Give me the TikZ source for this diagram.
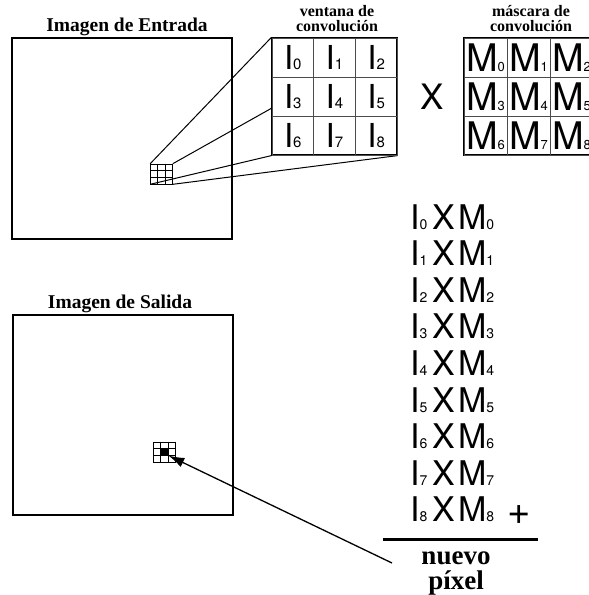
\documentclass[tikz,border=0pt]{standalone}
\usepackage{fontspec}
\setmainfont{Liberation Serif}
\newfontfamily\glyphfont{TeX Gyre Heros}
\usetikzlibrary{arrows.meta,positioning,calc,backgrounds}
\newcommand{\idx}[2][14]{{\fontsize{#1}{#1}\selectfont #2}}
\tikzset{
  imgbox/.style={draw, line width=1.4pt, minimum width=220pt, minimum height=201pt, inner sep=0pt},
  imgtitle/.style={font=\bfseries\fontsize{19.5}{19.5}\selectfont, anchor=base, inner sep=0pt},
  celltitle/.style={font=\bfseries\fontsize{16}{15.5}\selectfont, align=center, anchor=south, inner sep=0pt},
  cellframe/.style={draw, line width=1.2pt, fill=white, minimum height=117pt, inner sep=0pt},
  wincell/.style={draw=black!70, line width=0.7pt, minimum width=41.67pt, minimum height=39pt, inner sep=0pt, font=\glyphfont\fontsize{33}{33}\selectfont},
  maskcell/.style={draw=black!70, line width=0.7pt, minimum width=43pt, minimum height=39pt, inner sep=0pt, font=\glyphfont\fontsize{38}{38}\selectfont},
  pixgrid/.style={draw, line width=0.6pt, minimum width=22pt, minimum height=20pt, inner sep=0pt},
  zoomline/.style={line width=1pt},
  prodrow/.style={anchor=base west, inner sep=0pt, font=\glyphfont\fontsize{34}{34}\selectfont},
  ptrarrow/.style={-{Latex[length=16pt,width=10pt]}, line width=1.3pt}
}

\begin{document}
\begin{tikzpicture}[x=1pt,y=-1pt]
\useasboundingbox (0,0) rectangle (589,595);
\clip (0,0) rectangle (589,595);
% input image
\node[imgtitle] (intitle) at (127,31) {Imagen de Entrada};
\node[imgbox] (inbox) at (122,138.5) {};
\node[pixgrid] (ingrid) at (161.5,174) {};
% convolution window and mask
\node[cellframe, minimum width=125pt] (win) at (334.5,96.5) {};
\node[cellframe, minimum width=129pt] (mask) at (528.5,96.5) {};
\foreach \k in {0,...,8}{
  \pgfmathtruncatemacro{\wr}{\k/3}
  \pgfmathtruncatemacro{\wc}{\k-3*\wr}
  \node[wincell] (w\k) at (292.8+41.67*\wc, 57.5+39*\wr) {I\idx[15]{\k}};
  \node[maskcell] (m\k) at (485.5+43*\wc, 57.5+39*\wr) {M\idx[13]{\k}};
}
\node[celltitle] (wintitle) at (337,32) {ventana de\\convolución};
\node[celltitle] (masktitle) at (531,32) {máscara de\\convolución};
\node[font=\glyphfont\fontsize{35}{35}\selectfont, inner sep=0pt] (times) at (432,97) {X};
\begin{scope}[on background layer]
\draw[zoomline] (ingrid.north west) -- (win.north west);
\draw[zoomline] (ingrid.north east) -- (win.north east);
\draw[zoomline] (ingrid.south west) -- (win.south west);
\draw[zoomline] (ingrid.south east) -- (win.south east);
\end{scope}
% output image
\node[imgtitle] (outtitle) at (120,308) {Imagen de Salida};
\node[imgbox, minimum height=200pt] (outbox) at (123,415) {};
\node[pixgrid] (outgrid) at (164.5,452) {};
\node[fill, minimum width=7.33pt, minimum height=6.67pt, inner sep=0pt] (npix) at (outgrid.center) {};
\foreach \g in {ingrid,outgrid}
  \foreach \f in {1,2}{
    \draw[line width=0.6pt] ($(\g.north west)!\f/3!(\g.north east)$) -- ($(\g.south west)!\f/3!(\g.south east)$);
    \draw[line width=0.6pt] ($(\g.north west)!\f/3!(\g.south west)$) -- ($(\g.north east)!\f/3!(\g.south east)$);
  }
% products and sum
\foreach \k in {0,...,8}
  \node[prodrow] (p\k) at (410,229+36.6*\k) {I\idx{\k}\hspace{5pt}X\hspace{3pt}M\idx{\k}};
\node[prodrow, font=\glyphfont\fontsize{40}{40}\selectfont] (plus) at (507,524) {+};
\draw[line width=3pt] (383,539) -- (538,539);
\node[font=\bfseries\fontsize{27}{25}\selectfont, align=center, anchor=north, inner sep=0pt] (newpix) at (456,552) {nuevo\\píxel};
\coordinate (tail) at (392,563);
\draw[ptrarrow] (tail) -- (npix.south east);
\end{tikzpicture}
\end{document}
